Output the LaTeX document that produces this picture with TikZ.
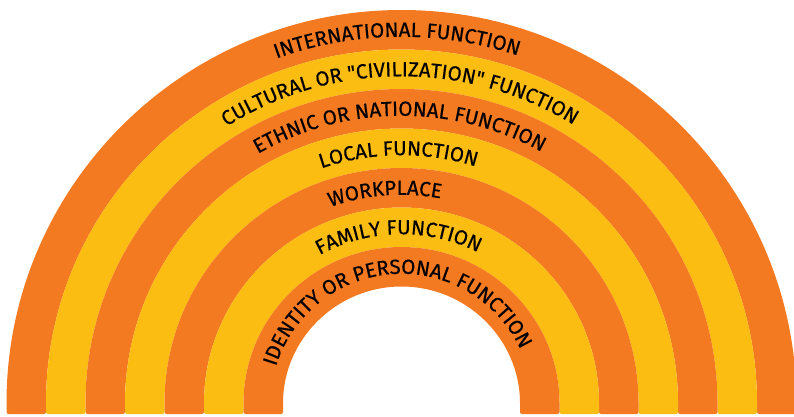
\documentclass[tikz,border=0pt]{standalone}
\usepackage{fontspec}
\newfontfamily\labelfont{Fira Sans}[FakeBold=0.4]
\usetikzlibrary{decorations.text,calc}
\definecolor{bandorange}{HTML}{F47A22}
\definecolor{bandyellow}{HTML}{FCBD13}
\tikzset{
  bandlabel/.style={decorate, decoration={text along path, text align=center,
     text={|\labelfont\fontsize{20.5}{24}\selectfont|#1}}}
}
\begin{document}
\begin{tikzpicture}[x=1pt,y=1pt]
\useasboundingbox (0,0) rectangle (794,416);
\clip (0,0) rectangle (794,416);
\coordinate (c) at (401.5,11);
\foreach \k in {0,...,6}{
  \pgfmathsetmacro{\Ro}{395-39.5*\k}
  \pgfmathsetmacro{\Ri}{\Ro-39.5}
  \pgfmathtruncatemacro{\odd}{mod(\k,2)}
  \ifnum\odd=0 \def\bc{bandorange}\else\def\bc{bandyellow}\fi
  \fill[\bc, rounded corners=2pt] ($(c)+(-\Ro,-9)$) -- ($(c)+(-\Ro,0)$) arc[start angle=180, end angle=0, radius=\Ro]
     -- ($(c)+(\Ro,-9)$) -- ($(c)+(\Ri,-9)$) -- ($(c)+(\Ri,0)$)
     arc[start angle=0, end angle=180, radius=\Ri] -- ($(c)+(-\Ri,-9)$) -- cycle;
}
\newcommand{\arclabel}[3]{% radius index, center angle, text
  \pgfmathsetmacro{\rb}{395-39.5*(#1+0.5)-7}
  \path[bandlabel={#3}] ($(c)+(#2+85:\rb)$) arc[start angle=#2+85, end angle=#2-85, radius=\rb];
}
\arclabel{0}{90.7}{INTERNATIONAL FUNCTION}
\arclabel{1}{90.3}{CULTURAL OR "CIVILIZATION" FUNCTION}
\arclabel{2}{90.4}{ETHNIC OR NATIONAL FUNCTION}
\arclabel{3}{90.7}{LOCAL FUNCTION}
\arclabel{4}{94.5}{WORKPLACE}
\arclabel{5}{91}{FAMILY FUNCTION}
\arclabel{6}{94}{IDENTITY OR PERSONAL FUNCTION}
\end{tikzpicture}
\end{document}
